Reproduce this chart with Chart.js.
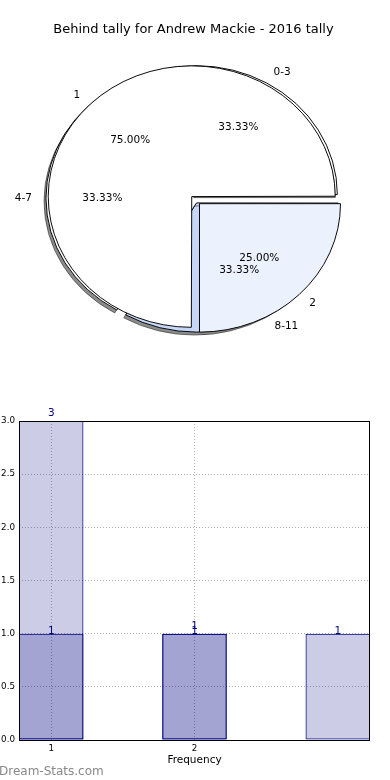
<!DOCTYPE html>
<html>
<head>
<meta charset="utf-8">
<script src="https://cdn.jsdelivr.net/npm/chart.js@4.4.1/dist/chart.umd.min.js"></script>
<style>
  body { margin: 0; background: #fff; }
  #pieBox { position: absolute; left: 0; top: 0; width: 390px; height: 380px; }
  #barBox { position: absolute; left: 0; top: 380px; width: 390px; height: 400px; }
</style>
</head>
<body>
<div id="pieBox"><canvas id="pie"></canvas></div>
<div id="barBox"><canvas id="bar"></canvas></div>
<script>
const chartTitle = 'Behind tally for Andrew Mackie - 2016 tally'
const tallyLabels = ['1', '2']
const tallyCounts = [3, 1]
const rangeLabels = ['0-3', '4-7', '8-11']
const rangeCounts = [1, 1, 1]
const barPositions = [1, 2, 3]
const xTickLabels = ['1', '2']
const yTicks = [0, 0.5, 1, 1.5, 2, 2.5, 3]
const xTitle = 'Frequency'
const watermark = 'Dream-Stats.com'

Chart.defaults.font.family = "'DejaVu Sans', sans-serif"
Chart.defaults.color = '#000'

const squash = 0.911
const pieRadius = 141
const labelFont = "10.5px 'DejaVu Sans', sans-serif"

// chart.js goes clockwise from 3 o'clock, matplotlib went anticlockwise, so reverse
const rev = arr => arr.slice().reverse()

function sliceShift(arc) {
    const fix = 1 - Math.sin(Math.min(Math.PI, arc.circumference))
    return (arc.options.offset || 0) / 4 * (1 + fix)
}

function drawPieLabels(chart) {
    const ctx = chart.ctx
    const names = [rev(tallyLabels), rev(rangeLabels)]
    ctx.save()
    ctx.fillStyle = '#000'
    ctx.font = labelFont
    ctx.textBaseline = 'middle'
    chart.data.datasets.forEach((ds, d) => {
        const total = ds.data.reduce((a, b) => a + b, 0)
        chart.getDatasetMeta(d).data.forEach((arc, i) => {
            const mid = (arc.startAngle + arc.endAngle) / 2
            const cos = Math.cos(mid)
            const sin = Math.sin(mid)
            const shift = sliceShift(arc)
            const at = f => [arc.x + cos * (pieRadius * f + shift), arc.y + sin * (pieRadius * f + shift) * squash]
            let [x, y] = at(0.6)
            ctx.textAlign = 'center'
            ctx.fillText((ds.data[i] / total * 100).toFixed(2) + '%', x, y)
            ;[x, y] = at(1.1)
            ctx.textAlign = cos > 0 ? 'left' : 'right'
            ctx.fillText(names[d][i], x, y)
        })
    })
    ctx.restore()
}

// both pies sit on top of each other, full size, squashed into an ellipse
const overlapPies = {
    id: 'overlapPies',
    afterDatasetUpdate(chart, args) {
        args.meta.data.forEach(arc => {
            arc.innerRadius = 0
            arc.outerRadius = pieRadius
        })
    },
    beforeDatasetsDraw(chart) {
        const arc = chart.getDatasetMeta(0).data[0]
        const ctx = chart.ctx
        ctx.save()
        ctx.translate(arc.x, arc.y)
        ctx.scale(1, squash)
        ctx.translate(-arc.x, -arc.y)
    },
    beforeDatasetDraw(chart, args) {
        // only the lower pie throws a shadow
        if (args.index === 1) {
            const ctx = chart.ctx
            ctx.shadowColor = 'rgba(0, 0, 0, 0.45)'
            ctx.shadowOffsetX = -2
            ctx.shadowOffsetY = 3
        }
    },
    afterDatasetDraw(chart) {
        chart.ctx.shadowColor = 'rgba(0, 0, 0, 0)'
    },
    afterDatasetsDraw(chart) {
        chart.ctx.restore()
        drawPieLabels(chart)
    }
}

new Chart(document.getElementById('pie'), {
    type: 'pie',
    data: {
        labels: rev(rangeLabels),
        datasets: [{
            data: rev(tallyCounts),
            backgroundColor: ['#ebf1fd', '#ffffff'],
            offset: [34, 10],
            borderColor: '#000',
            borderWidth: 1,
            clip: false
        }, {
            data: rev(rangeCounts),
            backgroundColor: ['#c6d6f7', '#ffffff', '#ffffff'],
            offset: [24, 23, 18],
            borderColor: '#000',
            borderWidth: 1,
            clip: false
        }]
    },
    options: {
        animation: false,
        responsive: true,
        maintainAspectRatio: false,
        rotation: 90,
        radius: pieRadius,
        layout: { padding: { top: 0, bottom: 31.2, left: 0, right: 3 } },
        plugins: {
            legend: { display: false },
            tooltip: { enabled: false },
            title: {
                display: true,
                text: chartTitle,
                color: '#000',
                font: { size: 13, weight: 'normal' },
                padding: { top: 22, bottom: 10 }
            }
        }
    },
    plugins: [overlapPies]
})

const frame = {
    id: 'frame',
    afterDatasetsDraw(chart) {
        const { ctx, chartArea: a } = chart
        ctx.save()
        ctx.strokeStyle = '#000'
        ctx.lineWidth = 1
        const l = Math.round(a.left) + 0.5
        const t = Math.round(a.top) + 0.5
        ctx.strokeRect(l, t, Math.round(a.right) - Math.round(a.left) - 1, Math.round(a.bottom) - Math.round(a.top))
        ctx.restore()
    }
}

const barLabels = {
    id: 'barLabels',
    afterDatasetsDraw(chart) {
        const ctx = chart.ctx
        ctx.save()
        ctx.fillStyle = 'navy'
        ctx.font = labelFont
        ctx.textAlign = 'center'
        ctx.textBaseline = 'alphabetic'
        chart.data.datasets.forEach((ds, d) => {
            chart.getDatasetMeta(d).data.forEach((bar, i) => {
                ctx.fillText(String(ds.data[i].y), bar.x, bar.y - (d === 0 ? 5 : 0))
            })
        })
        ctx.restore()
    },
    afterDraw(chart) {
        const ctx = chart.ctx
        ctx.save()
        ctx.fillStyle = '#888888'
        ctx.font = "12px 'DejaVu Sans', sans-serif"
        ctx.textAlign = 'left'
        ctx.textBaseline = 'alphabetic'
        ctx.fillText(watermark, -1, 395)
        ctx.restore()
    }
}

const barStyle = {
    backgroundColor: 'rgba(0, 0, 128, 0.2)',
    borderColor: 'navy',
    borderWidth: 1,
    borderSkipped: false,
    grouped: false,
    barPercentage: 0.45,
    categoryPercentage: 1
}

new Chart(document.getElementById('bar'), {
    type: 'bar',
    data: {
        datasets: [
            { ...barStyle, data: tallyCounts.map((v, i) => ({ x: barPositions[i], y: v })) },
            { ...barStyle, data: rangeCounts.map((v, i) => ({ x: barPositions[i], y: v })) }
        ]
    },
    options: {
        animation: false,
        responsive: true,
        maintainAspectRatio: false,
        layout: { padding: { top: 41, right: 20, left: 0, bottom: 0 } },
        plugins: { legend: { display: false }, tooltip: { enabled: false } },
        scales: {
            x: {
                type: 'linear',
                min: 0.775,
                max: 3.225,
                offset: false,
                grid: { color: '#b0b0b0', offset: false, drawTicks: false },
                border: { display: false, dash: [1, 2] },
                ticks: { font: { size: 8.75 }, padding: 3, callback: v => String(v) },
                afterBuildTicks: s => { s.ticks = xTickLabels.map(t => ({ value: Number(t) })) },
                afterFit: s => { s.height = 40 },
                title: { display: true, text: xTitle, font: { size: 10.5 }, padding: { top: 0, bottom: 13.7 } }
            },
            y: {
                min: 0,
                max: 3,
                grid: { color: '#b0b0b0', drawTicks: false },
                border: { display: false, dash: [1, 2] },
                ticks: { font: { size: 8.75 }, padding: 4, callback: v => v.toFixed(1) },
                afterBuildTicks: s => { s.ticks = yTicks.map(v => ({ value: v })) },
                afterFit: s => { s.width = 19 }
            }
        }
    },
    plugins: [frame, barLabels]
})
</script>
</body>
</html>
